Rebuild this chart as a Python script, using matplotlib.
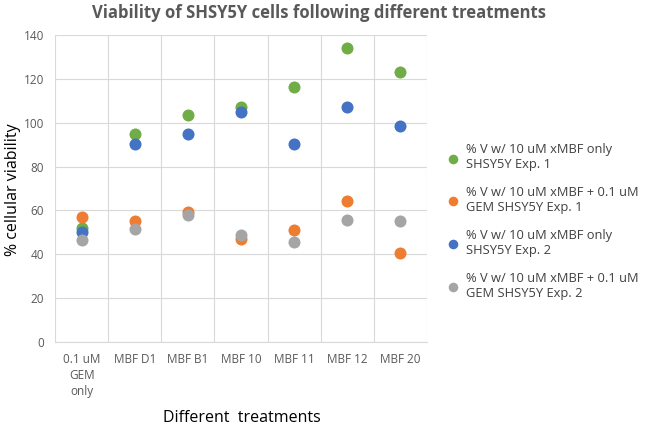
import matplotlib.pyplot as plt

# === Data ===
treatments = ["0.1 uM\nGEM\nonly", "MBF D1", "MBF B1", "MBF 10", "MBF 11", "MBF 12", "MBF 20"]
only_exp1 = [52, 95, 103.5, 107, 116.5, 134, 123]
gem_exp1 = [57, 55, 59.5, 47, 51, 64.5, 40.5]
only_exp2 = [50, 90.5, 95, 105, 90.5, 107, 98.5]
gem_exp2 = [46.5, 51.5, 58, 49, 45.5, 55.5, 55]

series = [
    ("% V w/ 10 uM xMBF only\nSHSY5Y Exp. 1", only_exp1, "#70AD47"),
    ("% V w/ 10 uM xMBF + 0.1 uM\nGEM SHSY5Y Exp. 1", gem_exp1, "#ED7D31"),
    ("% V w/ 10 uM xMBF only\nSHSY5Y Exp. 2", only_exp2, "#4472C4"),
    ("% V w/ 10 uM xMBF + 0.1 uM\nGEM SHSY5Y Exp. 2", gem_exp2, "#A5A5A5"),
]

plt.rcParams['font.family'] = ['Open Sans', 'DejaVu Sans']

fig = plt.figure(figsize=(6.49, 4.29), dpi=100)
ax = fig.add_axes([55 / 649, 1 - 342 / 429, (427 - 55) / 649, (342 - 35) / 429])

x = list(range(len(treatments)))
for label, vals, color in series:
    ax.scatter(x, vals, s=75, color=color, label=label, zorder=3, linewidths=0)

ax.set_xlim(-0.5, len(treatments) - 0.5)
ax.set_ylim(0, 140)
ax.set_yticks(range(0, 141, 20))
ax.set_xticks(x)
ax.set_xticklabels(treatments, linespacing=1.3)
ax.set_xticks([i + 0.5 for i in range(-1, len(treatments))], minor=True)
ax.grid(True, which='minor', axis='x', color='#D9D9D9', linewidth=0.8)
ax.grid(True, which='major', axis='y', color='#D9D9D9', linewidth=0.8)
ax.tick_params(axis='both', which='both', length=0, labelsize=8.5, colors='#595959', pad=8)
for s in ['top', 'right', 'left']:
    ax.spines[s].set_visible(False)
ax.spines['bottom'].set_color('#D9D9D9')

fig.text(13 / 649, 1 - 190 / 429, "% cellular viability", fontsize=11.5, color='black',
         rotation=90, ha='center', va='center')
fig.text(242 / 649, 1 - 418 / 429, "Different  treatments", fontsize=11.5, color='black',
         ha='center', va='center')

fig.suptitle("Viability of SHSY5Y cells following different treatments",
             x=0.492, y=0.99, fontsize=12, fontweight='bold', color='#595959')

ax.legend(loc='upper left', bbox_to_anchor=(440 / 649, 1 - 143 / 429), bbox_transform=fig.transFigure,
          frameon=False, fontsize=9.3, labelcolor='#404040', handletextpad=0.05,
          markerscale=0.8, labelspacing=1.15, borderaxespad=0, borderpad=0)

plt.savefig("out.png", dpi=100)
